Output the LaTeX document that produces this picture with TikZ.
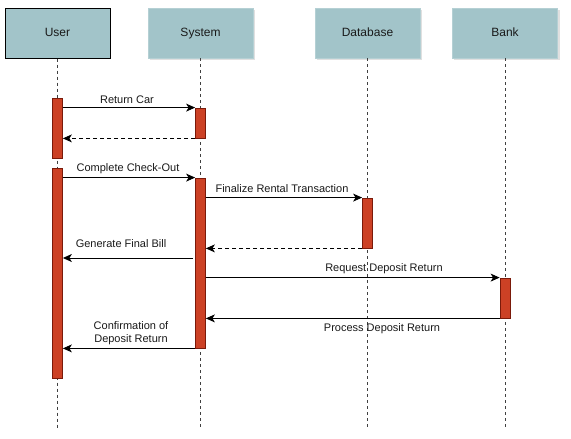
\documentclass[tikz,border=0pt]{standalone}
\usepackage{fontspec}
\setmainfont{Liberation Sans}
\usetikzlibrary{arrows.meta,calc}
\definecolor{hdr}{HTML}{A2C4C9}
\definecolor{actfill}{HTML}{CC4125}
\definecolor{actdraw}{HTML}{7A1A0A}
\definecolor{txt}{HTML}{1A1A1A}
\tikzset{
  header/.style={rectangle, fill=hdr, draw=hdr!80!white, minimum width=105pt, minimum height=50pt, inner sep=0pt, text height=8.7pt, text depth=2.5pt, font=\fontsize{12}{14}\selectfont, text=txt},
  shadowbox/.style={fill=black!12},
  lifeline/.style={draw=black!75, line width=0.8pt, dash pattern=on 3pt off 3pt},
  act/.style={rectangle, fill=actfill, draw=actdraw, line width=0.8pt, minimum width=10pt, inner sep=0pt},
  msg/.style={draw=black, line width=0.9pt, -{Stealth[length=9pt,width=8pt,inset=2.5pt]}},
  ret/.style={msg, dash pattern=on 4pt off 3pt},
  lbl/.style={font=\fontsize{11}{13}\selectfont, text=txt, inner sep=0pt, align=center}
}
\begin{document}
\begin{tikzpicture}[x=1pt,y=-1pt]
\useasboundingbox[fill=white] (0,0) rectangle (571,439);
% shadows
\fill[shadowbox] (150,10) rectangle (255,60);
\fill[shadowbox] (317,10) rectangle (422,60);
\fill[shadowbox] (454,10) rectangle (560,60);
% headers
\node[header, draw=black, line width=1pt] (user) at (57.5,33) {User};
\node[header] (sys) at (200.5,33) {System};
\node[header] (db) at (367.5,33) {Database};
\node[header] (bank) at (505,33) {Bank};
% lifeline ends
\coordinate (uend) at (57.5,428);
\coordinate (send) at (200.5,428);
\coordinate (dend) at (367.5,428);
\coordinate (bend) at (505,428);
\draw[lifeline] (user.south) -- (uend);
\draw[lifeline] (sys.south) -- (send);
\draw[lifeline] (db.south) -- (dend);
\draw[lifeline] (bank.south) -- (bend);
% activations
\node[act, minimum height=60pt] (ua1) at (57.5,128) {};
\node[act, minimum height=30pt] (sa1) at (200.5,123) {};
\node[act, minimum height=210pt] (ua2) at (57.5,273) {};
\node[act, minimum height=170pt] (sa2) at (200.5,263) {};
\node[act, minimum height=50pt] (da) at (367.5,223) {};
\node[act, minimum height=40pt] (ba) at (505,298) {};
% messages
\draw[msg] (ua1.east |- sa1.north) -- (sa1.north west);
\node[lbl] (l1) at (127,100) {Return Car};
\draw[ret] (sa1.south west) -- (ua1.east |- sa1.south);
\draw[msg] (ua2.east |- sa2.north) -- (sa2.north west);
\node[lbl] (l2) at (128,169) {Complete Check-Out};
\draw[msg] (sa2.east |- da.north) -- (da.north west);
\node[lbl] (l3) at (282,189) {Finalize Rental Transaction};
\draw[ret] (da.south west) -- (sa2.east |- da.south);
\coordinate (gfb) at (193,258);
\draw[msg] (gfb) -- (ua2.east |- gfb);
\node[lbl] (l4) at (121,244) {Generate Final Bill};
\draw[msg] (sa2.east |- ba.north) -- (ba.north west);
\node[lbl] (l5) at (384,269) {Request Deposit Return};
\draw[msg] (ba.south west) -- (sa2.east |- ba.south);
\node[lbl] (l6) at (382,329) {Process Deposit Return};
\draw[msg] (sa2.south west) -- (ua2.east |- sa2.south);
\node[lbl] (l7) at (131,333) {Confirmation of\\Deposit Return};
\end{tikzpicture}
\end{document}
